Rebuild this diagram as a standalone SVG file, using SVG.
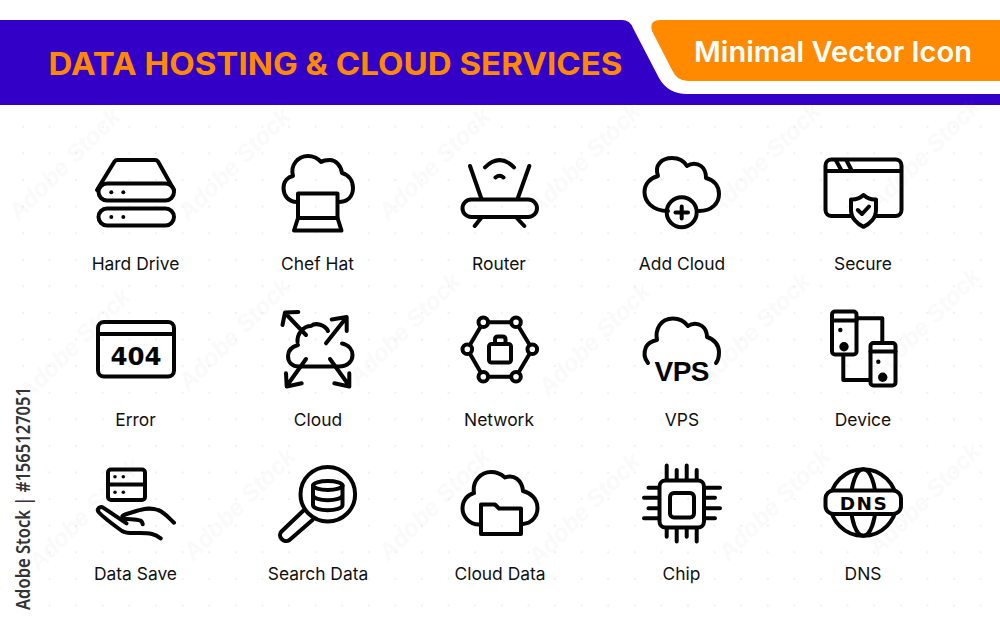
<svg xmlns="http://www.w3.org/2000/svg" width="1000" height="625" viewBox="0 0 1000 625">
<defs>
<style>
.i{fill:none;stroke:#050505;stroke-width:4;stroke-linecap:round;stroke-linejoin:round}
.w{fill:#fff}
.d{fill:#050505;stroke:none}
.l{font-family:Inter,"Liberation Sans",sans-serif;font-size:17.4px;fill:#111;text-anchor:middle}
.g{font-family:"DejaVu Sans",sans-serif;font-weight:700;fill:#050505;text-anchor:middle}
.m{font-family:"Liberation Sans",sans-serif;font-style:italic;font-weight:700;font-size:24px;fill:#808080;opacity:.035;text-anchor:middle}
</style>
<pattern id="dots" x="23" y="20.3" width="26.6" height="26.6" patternUnits="userSpaceOnUse"><circle cx="0" cy="0" r="1" fill="#ececec"/><circle cx="26.6" cy="0" r="1" fill="#ececec"/><circle cx="0" cy="26.6" r="1" fill="#ececec"/><circle cx="26.6" cy="26.6" r="1" fill="#ececec"/></pattern>
</defs>
<rect width="1000" height="625" fill="#fff"/>
<rect y="120" width="1000" height="505" fill="url(#dots)"/>
<g id="header">
<path d="M0 20H622Q630 20 633 28L659 78Q668 94 687 94H1000V105H0Z" fill="#3300c8"/>
<path d="M660 20H1000V81H688Q677 81 672 70L652 31Q649 20 660 20Z" fill="#ff8a00"/>
<text x="335.500" y="75" font-family="Inter,'Liberation Sans',sans-serif" font-weight="700" font-size="31" fill="#ff8a00" text-anchor="middle" textLength="574" lengthAdjust="spacingAndGlyphs">DATA HOSTING &amp; CLOUD SERVICES</text>
<text x="833" y="61.500" font-family="Inter,'Liberation Sans',sans-serif" font-weight="600" font-size="28" fill="#fff" text-anchor="middle" textLength="278" lengthAdjust="spacingAndGlyphs">Minimal Vector Icon</text>
</g>
<g id="hard-drive">
<path class="i" d="M97 190L114.500 161.500Q115.500 160 117.500 160H155Q157 160 158 161.500L174 190"/>
<rect class="i w" x="98.500" y="183.500" width="75.500" height="17" rx="8.500"/>
<rect class="i" x="98.500" y="208.500" width="75.500" height="17" rx="8.500"/>
<circle class="d" cx="111.300" cy="192.300" r="2"/><circle class="d" cx="123.300" cy="192.300" r="2"/>
<circle class="d" cx="111.300" cy="217" r="2"/><circle class="d" cx="123.300" cy="217" r="2"/>
<text class="l" x="135.500" y="270">Hard Drive</text>
</g>
<g id="chef-hat">
<path class="i" d="M297 202C288 202 283.500 195 283.500 188C283.500 181 288 177 293 176C290 165 298 156 308 156C314 156 318 158.500 321 162C324 160 327 160 330 160C336 160 341 166 342 173C349 175 353 181 353 188C353 196 348 202 338 202"/>
<path class="i" d="M298 218V193.500H337.500V218"/>
<path class="i" d="M298 218H337.500L341.500 230.500H294Z"/>
<text class="l" x="317.500" y="270">Chef Hat</text>
</g>
<g id="router">
<path class="i" d="M470 166L481.500 199M529.300 166L517.500 199M485 167.300Q499.500 153 514 167.300M495.500 177.500Q499.500 174 503.500 177.500M480.700 218.500L474.700 226M517.300 218.500L524.300 226"/>
<rect class="i" x="462.500" y="199.500" width="74.500" height="17.500" rx="8.700"/>
<text class="l" x="499" y="270">Router</text>
</g>
<g id="add-cloud">
<path class="i" d="M668 211C652 211 644.500 201 644.500 192C644.500 184 650 178 658 176C654 165 662 158 672 158C679 158 684 161 687 166C691 163 697 163 701 166C705 169 706 174 706 178C714 180 719 186 719 194C719 203 712 211 699 211"/>
<circle class="i" cx="681.700" cy="212.300" r="15"/>
<path class="i" d="M675.500 212.500H688M681.700 206.500V218.500"/>
<text class="l" x="682" y="270">Add Cloud</text>
</g>
<g id="secure">
<rect class="i" x="825.500" y="159.500" width="76" height="56.500" rx="6"/>
<path class="i" d="M826 171H901M836 160.500L841.500 170.500M846.500 160.500L851.700 170.500"/>
<path class="i w" d="M863.500 195Q869 200 876 199.500V210C876 218 870 224 863.500 226.800C857 224 851 218 851 210V199.500Q858 200 863.500 195Z"/>
<path class="i" d="M857.800 210L862 214L869 206.500"/>
<text class="l" x="863" y="270">Secure</text>
</g>
<g id="error">
<rect class="i" x="98" y="322" width="76" height="54.500" rx="6"/>
<path class="i" d="M98 334H174"/>
<text class="g" x="136" y="364.500" font-size="25" textLength="51" lengthAdjust="spacingAndGlyphs">404</text>
<text class="l" x="135.500" y="426">Error</text>
</g>
<g id="cloud">
<path class="i" d="M298 345C291 347 288 351 288 356C288 362 292 366.500 299 366.500H339C348 366.500 352.500 361 352.500 355C352.500 350 349 345 342 343.500M297.500 342C297 334 303 326 311 326C316 322 325 325 328 331"/>
<path class="i" d="M306 335L285 313M282.500 325L285 312.500L298.300 312M326 343.300L346 318M331.700 319.500L346.700 317V331M306 359L287 385.500M286 373.300L286.700 386.500L301.700 383.300M330 359L349 385.500M334.300 383.300L349.300 386.500V373.300"/>
<text class="l" x="318" y="426">Cloud</text>
</g>
<g id="network">
<path class="i" d="M483.300 322.300H516L532.300 349.300L516 376.700H483.300L467.300 349.300Z"/>
<g class="i w">
<circle cx="483.300" cy="322.300" r="4.800"/><circle cx="516" cy="322.300" r="4.800"/><circle cx="532.300" cy="349.300" r="4.800"/><circle cx="516" cy="376.700" r="4.800"/><circle cx="483.300" cy="376.700" r="4.800"/><circle cx="467.300" cy="349.300" r="4.800"/>
</g>
<rect class="i" x="489" y="344" width="22" height="18.500" rx="2.500"/>
<path class="i" d="M495 343.500V339.500Q495 336.500 498 336.500H502.500Q505.500 336.500 505.500 339.500V343.500"/>
<text class="l" x="499" y="426">Network</text>
</g>
<g id="vps">
<path class="i" d="M648 363C644 358 643.800 352 646 347C648 343 652 341 657 340C655 330 660 318.500 673 318.500C680 318.500 685 322 688 326C692 323 698 323 702 326C706 329 707 333 707 337C714 339 719 345 719 352C719 356 718.500 360 716 363"/>
<text x="682" y="381" font-family="Liberation Sans,sans-serif" font-weight="700" font-size="28" fill="#050505" text-anchor="middle" textLength="55" lengthAdjust="spacing">VPS</text>
<text class="l" x="682" y="426">VPS</text>
</g>
<g id="device">
<path class="i" d="M858 318.300H882.300V341.700M843.300 356V380H869"/>
<rect class="i" x="832" y="311.500" width="24.500" height="43" rx="3"/>
<path class="i" d="M832 320.500H856.500"/>
<circle class="d" cx="840.300" cy="330" r="2.200"/><circle class="d" cx="844" cy="346.700" r="4.700"/>
<rect class="i" x="870.500" y="343" width="25" height="42.500" rx="3"/>
<path class="i" d="M870.500 351.500H895.500"/>
<circle class="d" cx="878.300" cy="361.700" r="2.200"/><circle class="d" cx="882.700" cy="377.300" r="4.700"/>
<text class="l" x="863" y="426">Device</text>
</g>
<g id="data-save">
<rect class="i" x="108" y="469.500" width="37" height="30.500" rx="3"/>
<path class="i" d="M108 484.500H145"/>
<circle class="d" cx="115" cy="476.700" r="1.800"/><circle class="d" cx="123.300" cy="476.700" r="1.800"/><circle class="d" cx="115" cy="492.300" r="1.800"/><circle class="d" cx="123.300" cy="492.300" r="1.800"/>
<path class="i" d="M174 522.700C168 517 164 512 158 510C150 507 144 509 138 510.500L125 514.500C121 516 121.500 518.500 125 518.800C130 519.500 136 519 140 520.500C141.500 521 142.500 523 142.700 524.300"/>
<path class="i" d="M126.500 523.300L103.500 507.800C100 505.500 96 509 99 512.500C104 518 113 524.500 122 531C127 534 133 533 140 533C150 533 155 534 160.700 538.300"/>
<text class="l" x="135.500" y="580">Data Save</text>
</g>
<g id="search-data">
<circle class="i" cx="327.800" cy="494.200" r="27.300"/>
<path class="i" d="M303.500 510.500L281.500 531.500C277 536 283.500 544 289.500 540L312.500 520"/>
<ellipse class="i" cx="327.800" cy="485.500" rx="14.800" ry="4.500"/>
<path class="i" d="M313 485.500V505C313 512 342.500 512 342.500 505V485.500M313 495C313 502 342.500 502 342.500 495"/>
<text class="l" x="318" y="580">Search Data</text>
</g>
<g id="cloud-data">
<path class="i" d="M479 524.500C469 524.500 462.500 516 462.500 508.500C462.500 500 468 494.500 474 493C472 481 481 472 491 472C497 472 501 474 505 477.500C514 474 522 480 523 491C531 493 537.500 499 537.500 508C537.500 516 532 523.500 523 524"/>
<path class="i" d="M481 534V504.500H495L499 508.500H521V534Z"/>
<text class="l" x="500" y="580">Cloud Data</text>
</g>
<g id="chip">
<rect class="i" x="659.500" y="480.500" width="44.500" height="47" rx="6"/>
<rect class="i" x="670" y="493" width="24" height="24.500" rx="4"/>
<path class="i" d="M666.700 465.500V479M676.700 470V479M686.700 465.500V479M696.700 470V479M666.700 529V536.700M676.700 529V541.500M686.700 529V536.700M696.700 529V541.500M648.500 487.700H658M644 497.700H658M648.500 508.300H658M644 518.300H658M705.700 487.700H720M705.700 497.700H715M705.700 508.300H720M705.700 518.300H715"/>
<text class="l" x="681.500" y="580">Chip</text>
</g>
<g id="dns">
<circle class="i" cx="863.300" cy="502.500" r="33.300"/>
<ellipse class="i" cx="863.300" cy="502.500" rx="12.500" ry="33.300"/>
<rect class="i w" x="825.500" y="490.500" width="75.500" height="23.500" rx="8"/>
<text class="g" x="863.300" y="510" font-size="18.500" textLength="47" lengthAdjust="spacing">DNS</text>
<text class="l" x="863" y="580">DNS</text>
</g>
<text x="30" y="610" transform="rotate(-90 30 610)" font-family="'Noto Sans','Open Sans',sans-serif" font-size="20" font-weight="600" fill="#333" textLength="223" lengthAdjust="spacingAndGlyphs">Adobe Stock | #1565127051</text>
<g id="watermark">
<text class="m" transform="translate(70 170) rotate(-45)">Adobe Stock</text>
<text class="m" transform="translate(240 170) rotate(-45)">Adobe Stock</text>
<text class="m" transform="translate(440 170) rotate(-45)">Adobe Stock</text>
<text class="m" transform="translate(590 165) rotate(-45)">Adobe Stock</text>
<text class="m" transform="translate(770 165) rotate(-45)">Adobe Stock</text>
<text class="m" transform="translate(930 160) rotate(-45)">Adobe Stock</text>
<text class="m" transform="translate(80 350) rotate(-45)">Adobe Stock</text>
<text class="m" transform="translate(240 340) rotate(-45)">Adobe Stock</text>
<text class="m" transform="translate(410 335) rotate(-45)">Adobe Stock</text>
<text class="m" transform="translate(600 345) rotate(-45)">Adobe Stock</text>
<text class="m" transform="translate(760 335) rotate(-45)">Adobe Stock</text>
<text class="m" transform="translate(930 330) rotate(-45)">Adobe Stock</text>
<text class="m" transform="translate(90 520) rotate(-45)">Adobe Stock</text>
<text class="m" transform="translate(245 510) rotate(-45)">Adobe Stock</text>
<text class="m" transform="translate(440 510) rotate(-45)">Adobe Stock</text>
<text class="m" transform="translate(590 515) rotate(-45)">Adobe Stock</text>
<text class="m" transform="translate(780 510) rotate(-45)">Adobe Stock</text>
<text class="m" transform="translate(930 505) rotate(-45)">Adobe Stock</text>
</g>
</svg>
